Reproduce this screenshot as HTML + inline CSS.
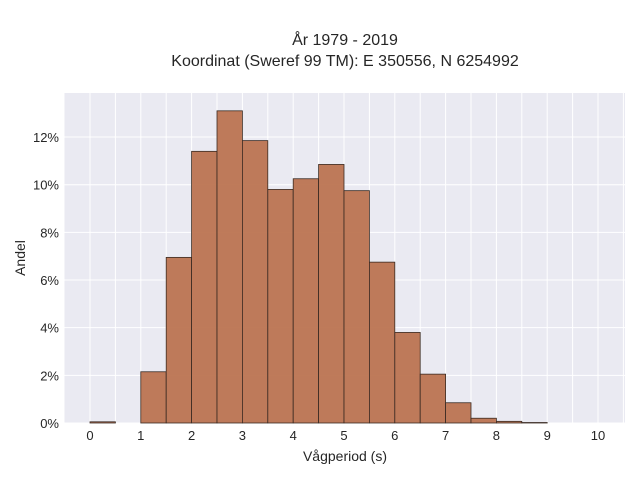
<!DOCTYPE html>
<html><head><meta charset="utf-8"><style>
body{margin:0;background:#fff;font-family:"Liberation Sans",sans-serif;}
svg text{font-family:"Liberation Sans",sans-serif;fill:#262626;}
</style></head><body>
<svg width="640" height="480" xmlns="http://www.w3.org/2000/svg">
<text x="345" y="45" text-anchor="middle" font-size="16">År 1979 - 2019</text>
<text x="345" y="66" text-anchor="middle" font-size="16">Koordinat (Sweref 99 TM): E 350556, N 6254992</text>
<rect x="64.5" y="93" width="560.5" height="330" fill="#eaeaf2"/>
<g id="grid"></g><g id="bars"></g><g id="ticks"></g>
<text x="345" y="461" text-anchor="middle" font-size="14">Vågperiod (s)</text>
<text transform="translate(25,258) rotate(-90)" text-anchor="middle" font-size="14">Andel</text>
</svg>
<script>
const binStarts=[0,0.5,1,1.5,2,2.5,3,3.5,4,4.5,5,5.5,6,6.5,7,7.5,8,8.5];
const shares=[0.05,0,2.15,6.95,11.4,13.1,11.85,9.8,10.25,10.85,9.75,6.75,3.8,2.05,0.85,0.2,0.07,0.02];
const xTicks=[0,1,2,3,4,5,6,7,8,9,10];
const yTicks=[0,2,4,6,8,10,12];
const binWidth=0.5;
const NS="http://www.w3.org/2000/svg";
const X=v=>90+v*50.8, Y=v=>423-v*23.83;
const grid=document.getElementById('grid'),bars=document.getElementById('bars'),ticks=document.getElementById('ticks');
function mk(tag,a,p){const e=document.createElementNS(NS,tag);for(const k in a)e.setAttribute(k,a[k]);p.appendChild(e);return e;}
for(let v=-0.5;v<=10.5;v+=0.5){const x=X(v);if(x<65||x>625)continue;
 const l=mk('line',{x1:x,x2:x,y1:93,y2:423,stroke:'#fff','stroke-width':1},grid);
 
 }
yTicks.forEach(v=>{const l=mk('line',{x1:64.5,x2:625,y1:Y(v),y2:Y(v),stroke:'#fff','stroke-width':1},grid);
 
 
 const t=mk('text',{x:59,y:Y(v)+5,'text-anchor':'end','font-size':13},ticks);t.textContent=v+'%';
 
 });
xTicks.forEach(v=>{const t=mk('text',{x:X(v),y:440,'text-anchor':'middle','font-size':13},ticks);t.textContent=v;
 
 });
binStarts.forEach((b,i)=>{if(shares[i]<=0)return;const y=Y(shares[i]);
 const r=mk('rect',{x:X(b),y:y,width:X(b+binWidth)-X(b),height:423-y,fill:'#bc7451','fill-opacity':0.95,stroke:'#3a2a22','stroke-width':0.8},bars);
 
 });
</script>
</body></html>
